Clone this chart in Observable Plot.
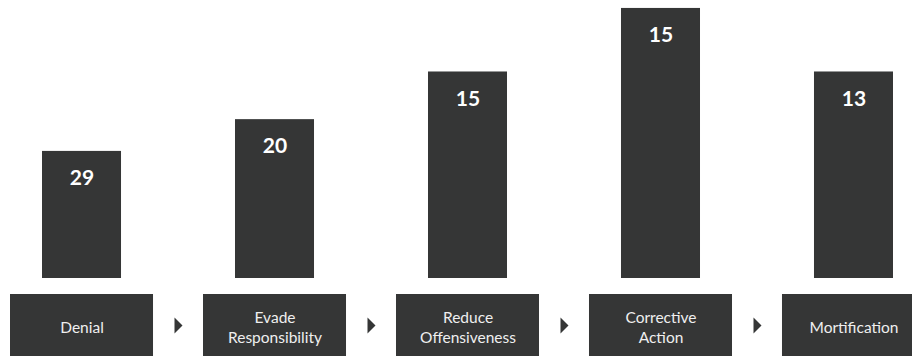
<!DOCTYPE html>
<html>
<head>
<meta charset="utf-8">
<script src="https://cdn.jsdelivr.net/npm/d3@7"></script>
<script src="https://cdn.jsdelivr.net/npm/@observablehq/plot@0.6"></script>
<style>
  html, body { margin: 0; padding: 0; background: #ffffff; overflow: hidden; }
  #chart svg { display: block; }
</style>
</head>
<body>
<div id="chart"></div>
<script>
// Image repair strategies, ordered from least to most acceptance of responsibility
const stages = ["Denial", "Evade Responsibility", "Reduce Offensiveness", "Corrective Action", "Mortification"];
const stageLabels = ["Denial", "Evade\nResponsibility", "Reduce\nOffensiveness", "Corrective\nAction", "Mortification"];
// Number of times each strategy was used
const counts = [29, 20, 15, 15, 13];
// Degree of responsibility accepted (bar height)
const responsibility = [4, 5, 6.5, 8.5, 6.5];

const data = stages.map((s, i) => ({
  stage: s,
  label: stageLabels[i],
  count: counts[i],
  responsibility: responsibility[i]
}));
// Arrows sit between consecutive strategies
const steps = data.slice(0, -1);

const ink = "#353636";

// Right-pointing narrow triangle
const arrowSymbol = {
  draw(context, size) {
    const r = Math.sqrt(size / Math.PI);
    context.moveTo(-r / 2, -r);
    context.lineTo(r / 2, 0);
    context.lineTo(-r / 2, r);
    context.closePath();
  }
};

const chart = Plot.plot({
  width: 912,
  height: 356,
  marginTop: 0,
  marginBottom: 78,
  marginLeft: 0,
  marginRight: 0,
  style: { fontFamily: "Lato, 'Open Sans', sans-serif", background: "#ffffff" },
  x: { type: "band", domain: stages, range: [10, 925], paddingInner: 0.259, paddingOuter: 0, round: false, axis: null },
  y: { domain: [0, 8.75], axis: null },
  marks: [
    // Columns
    Plot.barY(data, { x: "stage", y: "responsibility", fill: ink, insetLeft: 32, insetRight: 32 }),
    // Counts at the top of each column
    Plot.text(data, {
      x: "stage", y: "responsibility", text: d => String(d.count),
      dy: 27, fill: "#ffffff", fontSize: 21, fontWeight: "bold"
    }),
    // Strategy name boxes below the columns
    Plot.barY(data, { x: "stage", y1: 0, y2: 0, fill: ink, insetTop: 16, insetBottom: -78 }),
    Plot.text(data, {
      x: "stage", y: 0, text: "label", dy: 48,
      fill: "#efefef", fontSize: 15.5, lineHeight: 1.27
    }),
    // Arrows between boxes
    Plot.dot(steps, {
      x: "stage", y: 0, dx: 96.5, dy: 47, r: 8,
      symbol: arrowSymbol, fill: ink, stroke: "none"
    })
  ]
});

document.getElementById("chart").appendChild(chart);
</script>
</body>
</html>
